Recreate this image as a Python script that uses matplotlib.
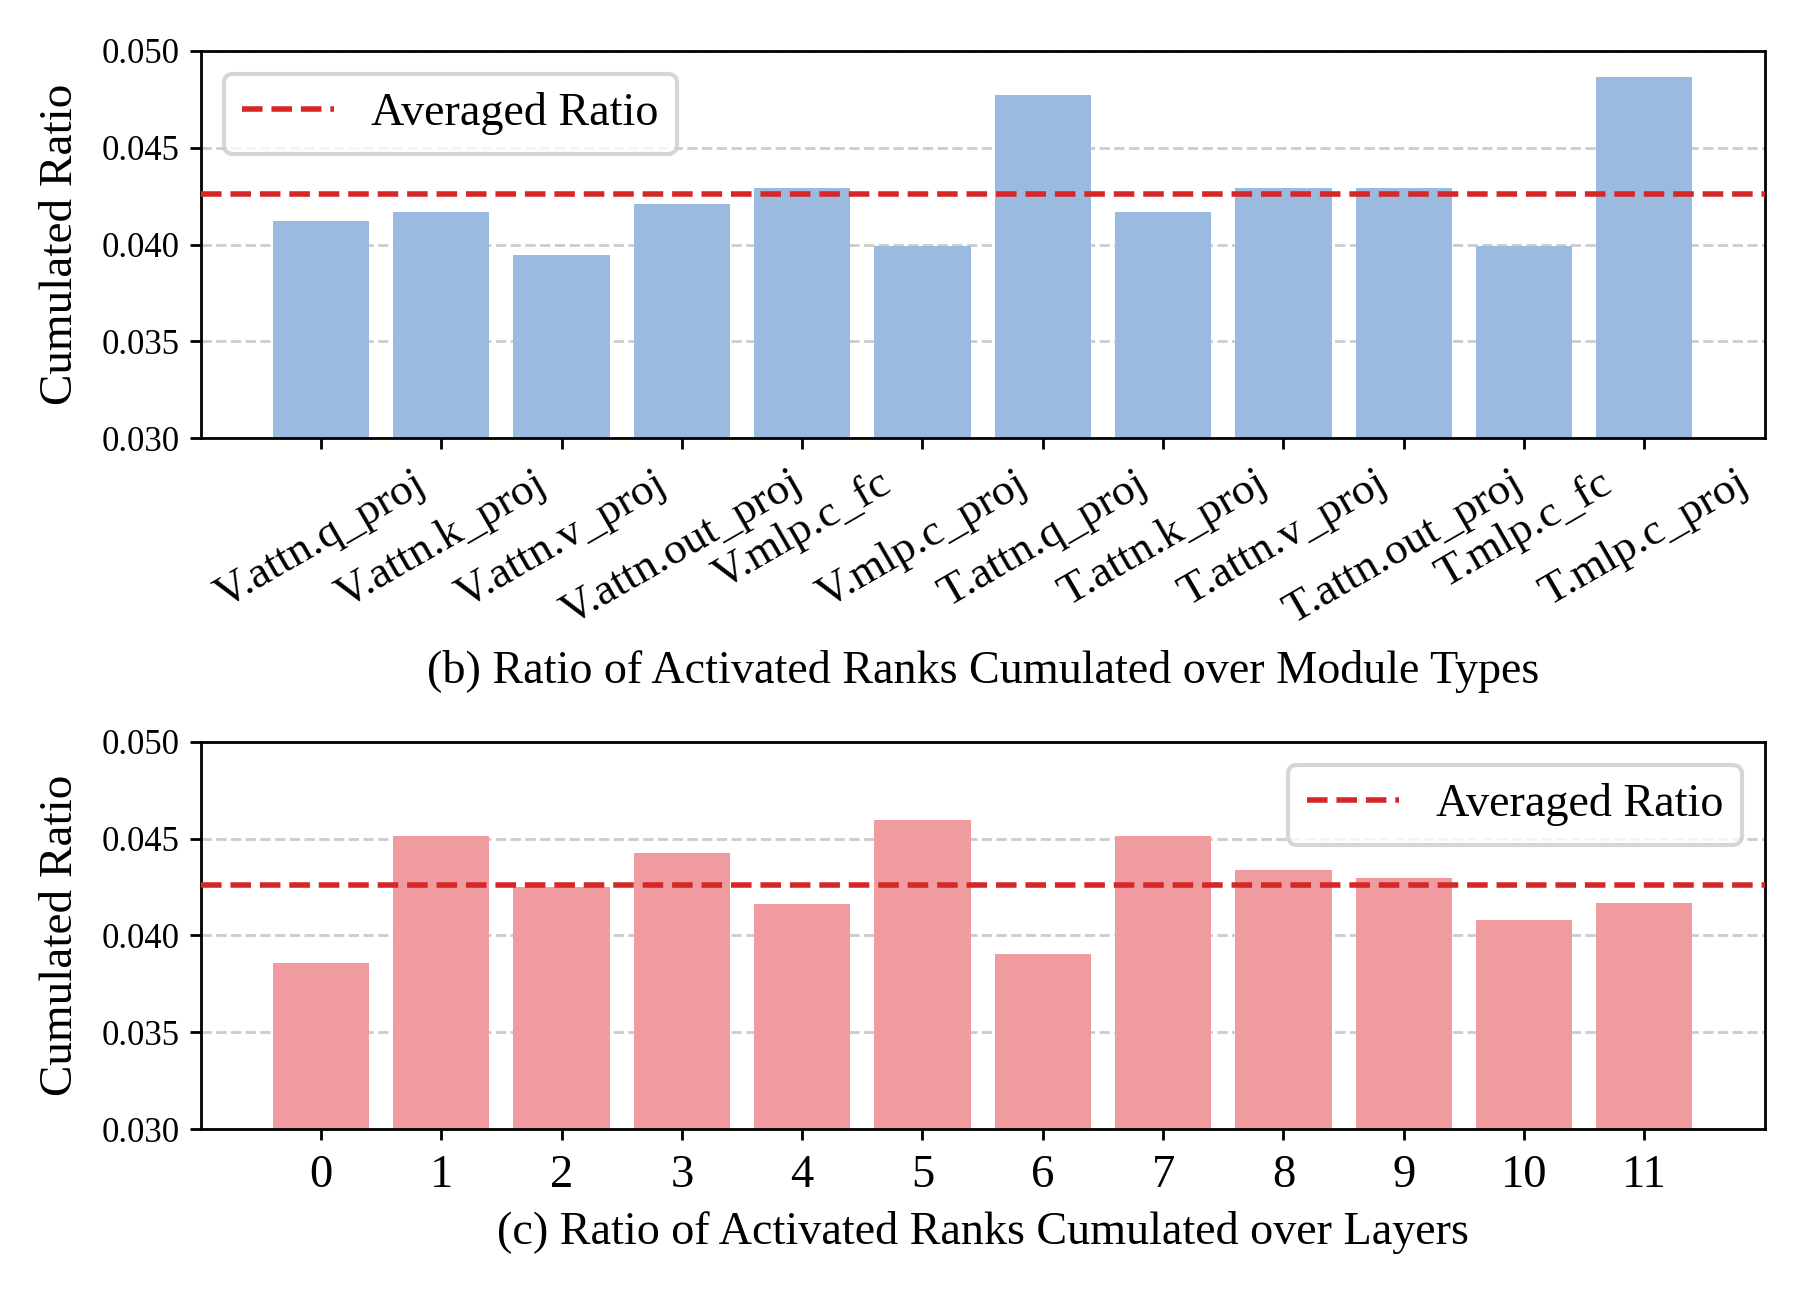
import matplotlib
matplotlib.use("Agg")
import matplotlib.pyplot as plt
import numpy as np

plt.rcParams['font.family'] = ['Liberation Serif', 'DejaVu Serif']
plt.rcParams['mathtext.fontset'] = 'stix'

module_names = ["V.attn.q_proj", "V.attn.k_proj", "V.attn.v_proj", "V.attn.out_proj",
                "V.mlp.c_fc", "V.mlp.c_proj", "T.attn.q_proj", "T.attn.k_proj",
                "T.attn.v_proj", "T.attn.out_proj", "T.mlp.c_fc", "T.mlp.c_proj"]
module_ratio = [0.04120, 0.04166, 0.03947, 0.04209, 0.04293, 0.03990,
                0.04774, 0.04166, 0.04293, 0.04293, 0.03990, 0.04862]

layer_names = [str(i) for i in range(12)]
layer_ratio = [0.03860, 0.04512, 0.04249, 0.04424, 0.04163, 0.04597,
               0.03904, 0.04515, 0.04339, 0.04298, 0.04078, 0.04166]

avg_ratio = 0.04259

yticks = [0.030, 0.035, 0.040, 0.045, 0.050]
caption_b = "(b) Ratio of Activated Ranks Cumulated over Module Types"
caption_c = "(c) Ratio of Activated Ranks Cumulated over Layers"

blue = '#9bbae0'
pink = '#ef9ba0'
red = '#d62728'

fig = plt.figure(figsize=(9.04, 6.455), dpi=200)
L, R = 0.111, 0.976
ax1 = fig.add_axes([L, 0.6605, R - L, 0.9607 - 0.6605])
ax2 = fig.add_axes([L, 0.1253, R - L, 0.4255 - 0.1253])

def style(ax, names, vals, color, caption, rot, legloc, xtsize, labpad):
    x = np.arange(len(names))
    ax.set_axisbelow(True)
    ax.yaxis.grid(True, linestyle='--', color='#cccccc', linewidth=1.0)
    ax.bar(x, vals, width=0.8, color=color, zorder=2)
    ax.axhline(avg_ratio, color=red, linestyle='--', linewidth=2.0, zorder=3,
               label='Averaged Ratio', dashes=(3.7, 1.6))
    ax.set_xlim(-1, len(names))
    ax.set_ylim(0.030, 0.050)
    ax.set_yticks(yticks)
    ax.set_yticklabels([f"{v:.3f}" for v in yticks], fontsize=12.5)
    ax.set_xticks(x)
    ax.set_xticklabels(names, rotation=rot, fontsize=xtsize)
    ax.set_ylabel("Cumulated Ratio", fontsize=17)
    ax.set_xlabel(caption, fontsize=16.6, labelpad=labpad)
    for s in ax.spines.values():
        s.set_linewidth(1.0)
    ax.tick_params(axis='both', width=1.0, length=4)
    ax.tick_params(axis='x', pad=5)
    leg = ax.legend(loc=legloc, fontsize=16.6, fancybox=True, framealpha=0.8,
                    handlelength=2.0)
    leg.get_frame().set_edgecolor('#cccccc')
    leg.get_frame().set_linewidth(1.5)

style(ax1, module_names, module_ratio, blue, caption_b, 30, 'upper left', 16.3, 6)
style(ax2, layer_names, layer_ratio, pink, caption_c, 0, 'upper right', 16.8, 5)
ax1.yaxis.set_label_coords(-0.076, 0.5)
ax2.yaxis.set_label_coords(-0.076, 0.5)

fig.savefig("out.png", dpi=200)
